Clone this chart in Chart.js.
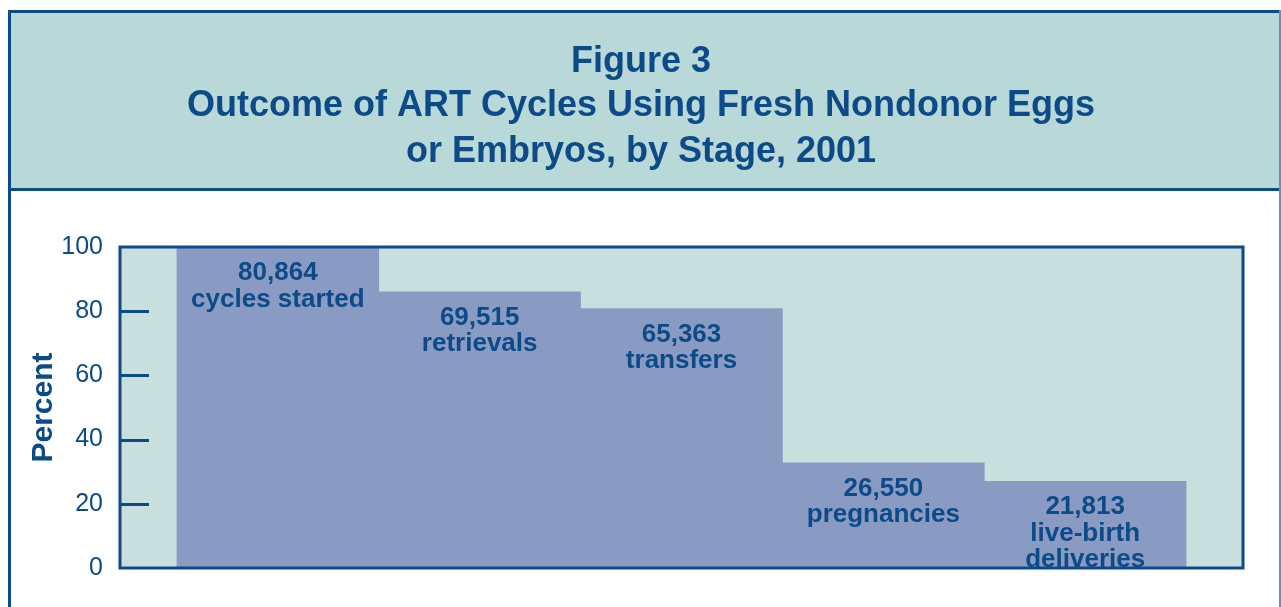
<!DOCTYPE html>
<html>
<head>
<meta charset="utf-8">
<script src="https://cdn.jsdelivr.net/npm/chart.js@4/dist/chart.umd.min.js"></script>
<style>
  html, body { margin: 0; padding: 0; background: #ffffff; }
  #wrap { width: 1281px; height: 607px; }
</style>
</head>
<body>
<div id="wrap"><canvas id="c" width="1281" height="607"></canvas></div>
<script>
// ---- data ----
const titleLines = ['Figure 3', 'Outcome of ART Cycles Using Fresh Nondonor Eggs', 'or Embryos, by Stage, 2001'];
const stages = ['cycles started', 'retrievals', 'transfers', 'pregnancies', 'live-birth deliveries'];
const stageLines = [['cycles started'], ['retrievals'], ['transfers'], ['pregnancies'], ['live-birth', 'deliveries']];
const counts = [80864, 69515, 65363, 26550, 21813];
const percents = [100, 86.0, 80.8, 32.8, 27.0];
const yTicks = [0, 20, 40, 60, 80, 100];
const yTitle = 'Percent';

// ---- style ----
const FONT = '"Liberation Sans", Arial, Helvetica, sans-serif';
const DARK = '#0c4a88';
const HEADER_BG = '#b9d8d8';
const PLOT_BG = '#c9dfde';
const BAR = '#8a9bc3';

const framePlugin = {
  id: 'frame',
  beforeDraw(chart) {
    const ctx = chart.ctx;
    const a = chart.chartArea;
    ctx.save();
    ctx.fillStyle = '#ffffff';
    ctx.fillRect(0, 0, chart.width, chart.height);
    // header box
    ctx.fillStyle = HEADER_BG;
    ctx.fillRect(11, 13, 1268, 175);
    ctx.fillStyle = DARK;
    ctx.fillRect(8, 10, chart.width - 8, 3);      // top line
    ctx.fillRect(8, 188, chart.width - 8, 3);     // header bottom line
    ctx.fillRect(8, 10, 3, chart.height - 10);    // left line
    ctx.fillStyle = '#5f90bf';
    ctx.fillRect(1279, 10, 2, chart.height - 10); // right line
    // title text
    ctx.fillStyle = DARK;
    ctx.font = 'bold 36px ' + FONT;
    ctx.textAlign = 'center';
    ctx.textBaseline = 'alphabetic';
    const baselines = [72, 116, 162];
    titleLines.forEach((t, i) => {
      if (i === 1) ctx.fillText(t, 641, baselines[i], 934);
      else ctx.fillText(t, 641, baselines[i]);
    });
    // plot background
    ctx.fillStyle = PLOT_BG;
    ctx.fillRect(a.left, a.top, a.right - a.left, a.bottom - a.top);
    ctx.restore();
  },
  afterDatasetsDraw(chart) {
    const ctx = chart.ctx;
    const a = chart.chartArea;
    const ys = chart.scales.y;
    ctx.save();
    // bar labels
    ctx.fillStyle = DARK;
    ctx.font = 'bold 26px ' + FONT;
    ctx.textAlign = 'center';
    ctx.textBaseline = 'alphabetic';
    const meta = chart.getDatasetMeta(0);
    meta.data.forEach((bar, i) => {
      const lines = [counts[i].toLocaleString('en-US')].concat(stageLines[i]);
      lines.forEach((ln, j) => {
        ctx.fillText(ln, bar.x, bar.y + 33 + j * 26.5);
      });
    });
    // inward tick marks
    ctx.strokeStyle = DARK;
    ctx.lineWidth = 3;
    yTicks.forEach(v => {
      if (v <= ys.min || v >= ys.max) return;
      const y = Math.round(ys.getPixelForValue(v)) + 0.5;
      ctx.beginPath();
      ctx.moveTo(a.left, y);
      ctx.lineTo(a.left + 29, y);
      ctx.stroke();
    });
    // plot border
    ctx.lineWidth = 3;
    ctx.strokeRect(a.left, a.top, a.right - a.left, a.bottom - a.top);
    ctx.restore();
  }
};

new Chart(document.getElementById('c'), {
  type: 'bar',
  data: {
    labels: stages,
    datasets: [{
      data: percents.map((v, i) => ({ x: i, y: v })),
      backgroundColor: BAR,
      borderWidth: 0,
      categoryPercentage: 1,
      barPercentage: 1
    }]
  },
  options: {
    responsive: false,
    devicePixelRatio: 1,
    animation: false,
    layout: { padding: { top: 247, right: 38, bottom: 39, left: 0 } },
    plugins: {
      legend: { display: false },
      tooltip: { enabled: false },
      title: { display: false }
    },
    scales: {
      x: {
        type: 'linear',
        display: false,
        min: -0.782,
        max: 4.782,
        offset: false,
        ticks: { stepSize: 1, includeBounds: false }
      },
      y: {
        min: 0,
        max: 100,
        afterBuildTicks: s => { s.ticks = yTicks.map(v => ({ value: v })); },
        afterFit: s => { s.width = 120; },
        grid: { display: false, drawTicks: false },
        border: { display: false },
        ticks: {
          padding: 17,
          color: DARK,
          font: { family: FONT, size: 25 }
        },
        title: {
          display: true,
          text: yTitle,
          color: DARK,
          font: { family: FONT, size: 30, weight: 'bold', lineHeight: 1.2 },
          padding: { top: 26, bottom: 0 }
        }
      }
    }
  },
  plugins: [framePlugin]
});
</script>
</body>
</html>
